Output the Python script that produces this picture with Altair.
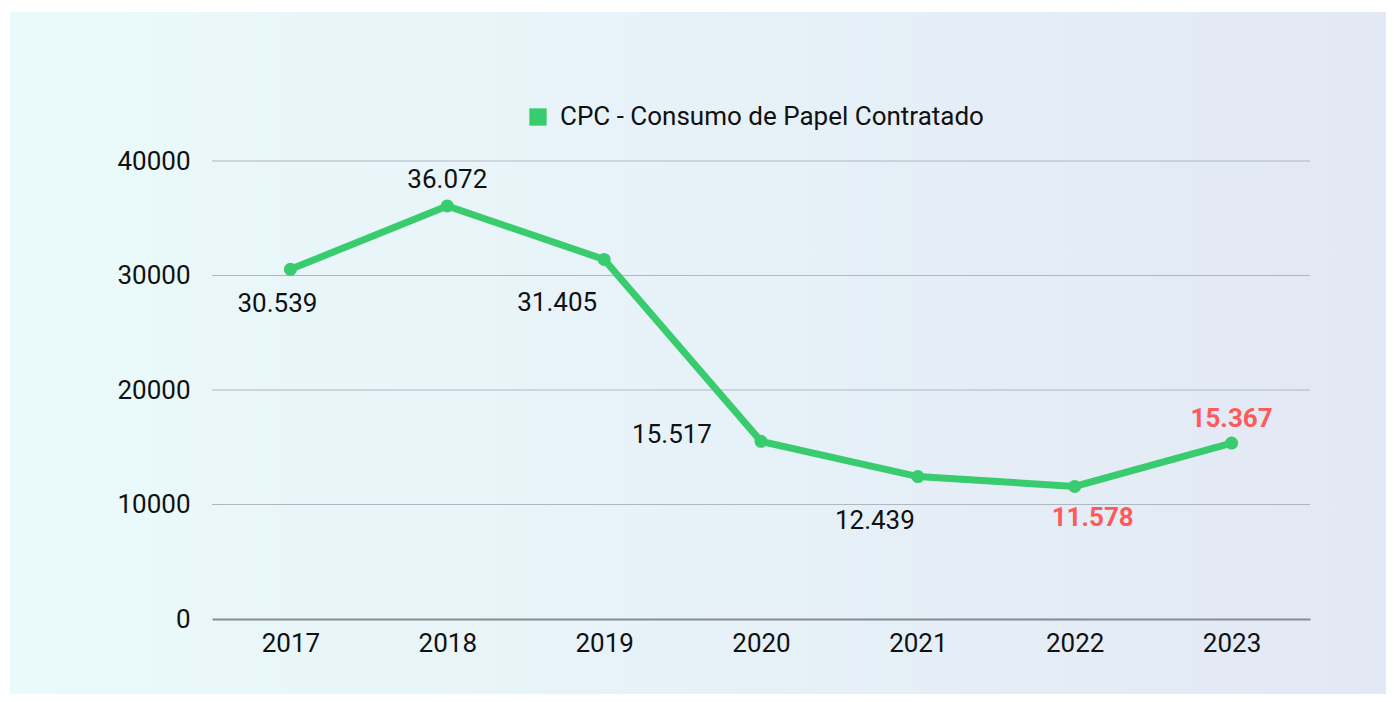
import altair as alt
import pandas as pd

years = ["2017", "2018", "2019", "2020", "2021", "2022", "2023"]
values = [30539, 36072, 31405, 15517, 12439, 11578, 15367]
labels = ["30.539", "36.072", "31.405", "15.517", "12.439", "11.578", "15.367"]
highlight = [False, False, False, False, False, True, True]
series_name = "CPC - Consumo de Papel Contratado"
grid_values = [10000, 20000, 30000, 40000]
y_ticks = [0, 10000, 20000, 30000, 40000]

GREEN = "#38cc6f"
RED = "#ff5a5a"
FONT = "Roboto"
FS = 26

df = pd.DataFrame({"year": years, "value": values, "label": labels,
                   "hl": highlight, "series": [series_name] * len(years)})
grid_df = pd.DataFrame({"value": grid_values})

W, H = 1098, 458

x_enc = alt.X("year:O", sort=years,
              axis=alt.Axis(title=None, labelAngle=0, ticks=False, tickSize=0,
                            labelPadding=11, labelFontSize=FS, labelFont=FONT,
                            labelColor="#111111", domain=True, domainColor="#868c92",
                            domainWidth=2, grid=False, zindex=1))
y_scale = alt.Scale(domain=[0, 40000], nice=False)
y_axis = alt.Axis(title=None, values=y_ticks, format="d", ticks=False,
                  domain=False, grid=False, labelPadding=22,
                  labelFontSize=FS, labelFont=FONT, labelColor="#111111",
                  zindex=1)
y_enc = alt.Y("value:Q", scale=y_scale, axis=y_axis)

gradient = alt.LinearGradient(
    gradient="linear",
    stops=[alt.GradientStop(color="#eafafa", offset=0),
           alt.GradientStop(color="#e7f2f8", offset=0.5),
           alt.GradientStop(color="#e2e8f4", offset=1)],
    x1=0, x2=1, y1=0, y2=0)

bg = alt.Chart(pd.DataFrame({"a": [0]})).mark_rect(fill=gradient).encode(
    x=alt.value(-202), x2=alt.value(1174), y=alt.value(-149), y2=alt.value(539))

grid = alt.Chart(grid_df).mark_rule(color="#b0b7bf", strokeWidth=1.2).encode(y=y_enc)

base = alt.Chart(df)

line = base.mark_line(color=GREEN, strokeWidth=7).encode(x=x_enc, y=y_enc)

points = base.mark_point(filled=True, opacity=1, size=170).encode(
    x=x_enc, y=y_enc,
    color=alt.Color("series:N",
                    scale=alt.Scale(domain=[series_name], range=[GREEN]),
                    legend=alt.Legend(title=None, orient="none", legendX=313, legendY=-57,
                                      symbolType="square", symbolSize=300,
                                      symbolStrokeWidth=0, labelFontSize=FS,
                                      labelFont=FONT, labelColor="#111111",
                                      labelOffset=9, labelLimit=1000)))

offsets = {
    "2017": (-13, 35),
    "2018": (0, -26),
    "2019": (-47, 44),
    "2020": (-89, -6),
    "2021": (-43, 44),
    "2022": (18, 32),
    "2023": (0, -24),
}

text_layers = []
for yr, hl in zip(years, highlight):
    dx, dy = offsets[yr]
    t = base.transform_filter(alt.datum.year == yr).mark_text(
        dx=dx, dy=dy, fontSize=FS, font=FONT, align="center", baseline="middle",
        fontWeight="bold" if hl else "normal",
        color=RED if hl else "#111111").encode(
        x=x_enc, y=y_enc, text="label:N")
    text_layers.append(t)

chart = alt.layer(bg, grid, line, points, *text_layers).properties(
    width=W, height=H,
    padding={"left": 204, "top": 153, "right": 76, "bottom": 75},
    autosize=alt.AutoSizeParams(type="none"),
    background="white",
).configure_view(strokeWidth=0)

chart.save("out.html", embed_options={"renderer": "svg", "actions": False})
